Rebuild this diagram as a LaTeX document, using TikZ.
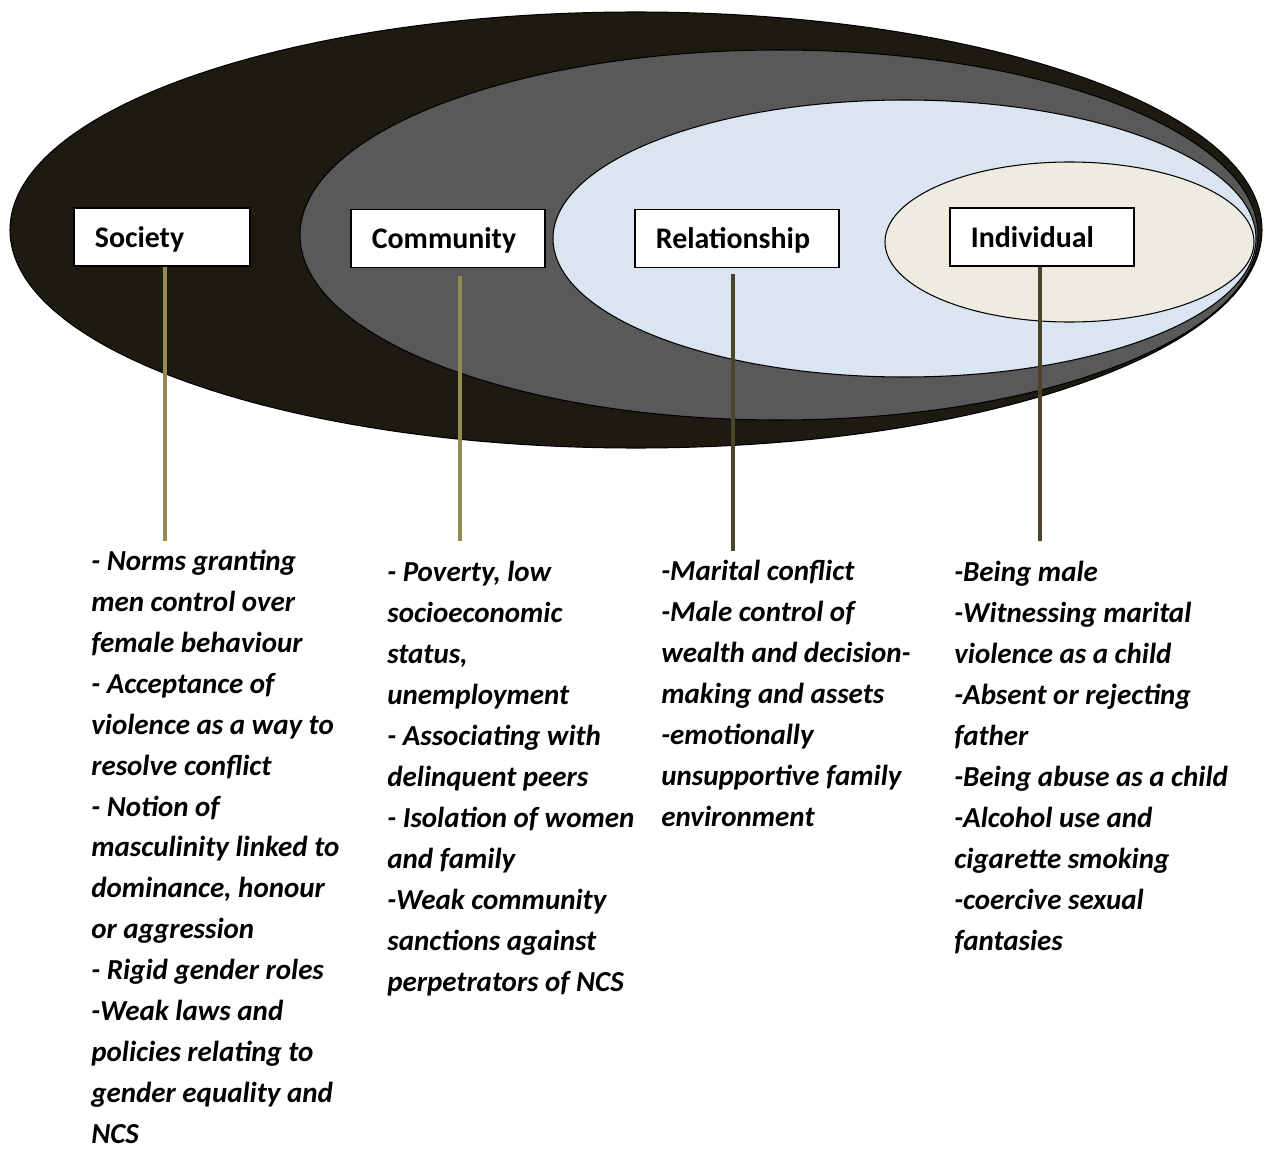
\documentclass[tikz,border=0pt]{standalone}
\usepackage{fontspec}
\setmainfont{Carlito}
\usetikzlibrary{positioning,calc}

\definecolor{outerring}{HTML}{1D1B11}
\definecolor{commring}{HTML}{595959}
\definecolor{relring}{HTML}{DBE5F1}
\definecolor{indring}{HTML}{EEECE1}
\definecolor{tanlink}{HTML}{948A54}
\definecolor{darklink}{HTML}{4A452A}

\tikzset{
  ring/.style={draw=black, line width=0.6pt, fill=#1},
  levelbox/.style={draw=black, line width=1pt, fill=white, anchor=west,
    align=left, text width=#1, inner xsep=0.42cm, minimum height=1.16cm,
    text depth=0pt, font=\fontsize{17}{20}\selectfont\bfseries},
  % lists are placed by the baseline of their last line
  risklist/.style={anchor=base west, align=left, inner sep=0pt,
    font=\fontsize{16.5}{23.3}\selectfont\bfseries\itshape},
  link/.style={line width=2pt, draw=#1},
}

\begin{document}
\begin{tikzpicture}[x=0.02cm, y=-0.02cm]
  \useasboundingbox (0,0) rectangle (1269,1149);
  % nested levels, outermost first
  \draw[ring=outerring] (636,230) ellipse (626 and 218);
  \draw[ring=commring] (779,235) ellipse (479 and 185);
  \draw[ring=relring] (904.5,238.5) ellipse (351.5 and 138.5);
  \draw[ring=indring] (1069.5,242) ellipse (184.5 and 80);

  \node[levelbox=2.68cm] (society) at (73,237) {Society};
  \node[levelbox=3.04cm] (community) at (350,238.5) {Community};
  \node[levelbox=3.24cm] (relationship) at (634,238.5) {Relationship};
  \node[levelbox=2.84cm] (individual) at (949,237) {Individual};

  % risk factors under each level
  \node[risklist] (societylist) at (91,1143.5) {- Norms granting\\men control over\\female behaviour\\- Acceptance of\\violence as a way to\\resolve conflict\\- Notion of\\masculinity linked to\\dominance, honour\\or aggression\\- Rigid gender roles\\-Weak laws and\\policies relating to\\gender equality and\\NCS};
  \node[risklist] (communitylist) at (387,991) {- Poverty, low\\socioeconomic\\status,\\unemployment\\- Associating with\\delinquent peers\\- Isolation of women\\and family\\-Weak community\\sanctions against\\perpetrators of NCS};
  \node[risklist] (relationshiplist) at (661,826.5) {-Marital conflict\\-Male control of\\wealth and decision-\\making and assets\\-emotionally\\unsupportive family\\environment};
  \node[risklist] (individuallist) at (954,950) {-Being male\\-Witnessing marital\\violence as a child\\-Absent or rejecting\\father\\-Being abuse as a child\\-Alcohol use and\\cigarette smoking\\-coercive sexual\\fantasies};

  \coordinate (socfoot) at (165,541);
  \coordinate (commfoot) at (460,541);
  \coordinate (relfoot) at (733,551);
  \coordinate (indfoot) at (1040,541);
  \draw[link=tanlink] (society.south -| socfoot) -- (socfoot);
  \draw[link=tanlink, shorten <=0.16cm] (community.south -| commfoot) -- (commfoot);
  \draw[link=darklink, shorten <=0.12cm] (relationship.south -| relfoot) -- (relfoot);
  \draw[link=darklink] (individual.south -| indfoot) -- (indfoot);
\end{tikzpicture}
\end{document}
